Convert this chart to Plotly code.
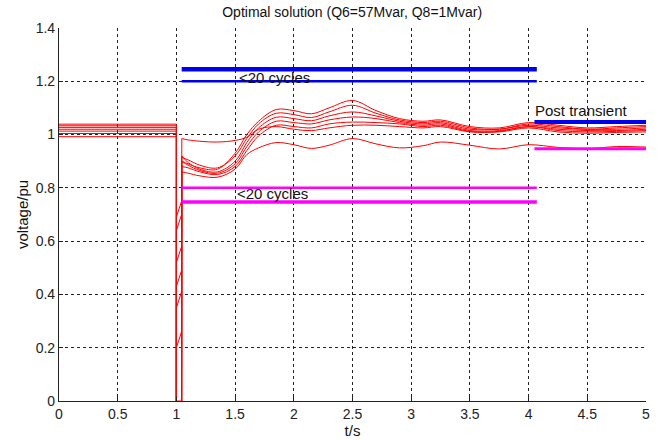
import plotly.graph_objects as go

# ---------------- data ----------------
x_ticks = [0, 0.5, 1, 1.5, 2, 2.5, 3, 3.5, 4, 4.5, 5]
y_ticks = [0, 0.2, 0.4, 0.6, 0.8, 1.0, 1.2, 1.4]

curve_names = ["U1", "U2", "U3", "U4", "U5", "U6", "L"]
pre_fault = [1.039, 1.033, 1.027, 1.02, 1.013, 1.004, 0.992]
fault_start_t = 1.0
fault_end_t = 1.044
fault_mid = [0.0, 0.69, 0.64, 0.52, 0.43, 0.35, 0.2]

post_t = [1.046, 1.1, 1.2, 1.35, 1.5, 1.6, 1.7, 1.85, 2.0, 2.15, 2.3, 2.5,
          2.7, 2.9, 3.1, 3.25, 3.5, 3.75, 4.0, 4.25, 4.5, 4.75, 5.0]
post_U1 = [0.90, 0.89, 0.875, 0.87, 0.93, 1.0, 1.05, 1.094, 1.09, 1.078, 1.10, 1.128,
           1.09, 1.06, 1.05, 1.055, 1.03, 1.025, 1.045, 1.035, 1.025, 1.03, 1.035]
post_U2 = [0.915, 0.905, 0.885, 0.875, 0.92, 0.985, 1.04, 1.08, 1.075, 1.064, 1.085, 1.11,
           1.08, 1.055, 1.045, 1.05, 1.025, 1.02, 1.04, 1.03, 1.02, 1.025, 1.03]
post_U3 = [0.92, 0.895, 0.87, 0.86, 0.90, 0.97, 1.025, 1.065, 1.06, 1.052, 1.07, 1.085,
           1.07, 1.05, 1.04, 1.045, 1.02, 1.02, 1.035, 1.025, 1.02, 1.02, 1.025]
post_U4 = [0.90, 0.885, 0.865, 0.855, 0.89, 0.955, 1.01, 1.05, 1.045, 1.04, 1.055, 1.066,
           1.06, 1.045, 1.035, 1.04, 1.015, 1.015, 1.03, 1.02, 1.015, 1.015, 1.02]
post_U5 = [0.88, 0.875, 0.86, 0.85, 0.88, 0.94, 0.995, 1.035, 1.03, 1.025, 1.04, 1.047,
           1.045, 1.04, 1.03, 1.035, 1.012, 1.012, 1.03, 1.015, 1.01, 1.012, 1.015]
post_U6 = [0.985, 0.98, 0.975, 0.972, 0.978, 0.99, 1.02, 1.03, 1.02, 1.015, 1.025, 1.035,
           1.035, 1.03, 1.025, 1.03, 1.01, 1.01, 1.025, 1.01, 1.005, 1.008, 1.01]
post_L = [0.86, 0.855, 0.845, 0.84, 0.87, 0.925, 0.95, 0.97, 0.962, 0.948, 0.96, 0.985,
          0.965, 0.95, 0.958, 0.972, 0.96, 0.946, 0.962, 0.952, 0.947, 0.955, 0.953]
post_values = [post_U1, post_U2, post_U3, post_U4, post_U5, post_U6, post_L]

# limit lines
limit_t = [1.045, 4.07]
post_limit_t = [4.05, 5.0]
upper_limit_thick = 1.245
upper_limit_thin = 1.2
lower_limit_thin = 0.8
lower_limit_thick = 0.747
post_upper = 1.047
post_lower = 0.947

# ---------------- figure ----------------
fig = go.Figure()
red = "#ff0000"

for pre, mid, post in zip(pre_fault, fault_mid, post_values):
    if mid == 0.0:
        ft = [0, fault_start_t, fault_start_t, fault_end_t, fault_end_t, post_t[0]]
        fv = [pre, pre, 0, 0, post[0] - 0.02, post[0]]
    else:
        ft = [0, fault_start_t, fault_start_t, fault_start_t, fault_end_t, fault_end_t, fault_end_t, post_t[0]]
        fv = [pre, pre, 0, mid, mid + 0.06, 0, post[0] - 0.02, post[0]]
    fig.add_trace(go.Scatter(x=ft, y=fv, mode="lines",
                             line=dict(color=red, width=1), hoverinfo="skip"))
    fig.add_trace(go.Scatter(x=post_t, y=post, mode="lines",
                             line=dict(color=red, width=1, shape="spline", smoothing=1.0),
                             hoverinfo="skip"))

blue = "#0000ee"
magenta = "#ff00ff"
fig.add_trace(go.Scatter(x=limit_t, y=[upper_limit_thick] * 2, mode="lines",
                         line=dict(color=blue, width=4.5)))
fig.add_trace(go.Scatter(x=limit_t, y=[upper_limit_thin] * 2, mode="lines",
                         line=dict(color=blue, width=2.5)))
fig.add_trace(go.Scatter(x=limit_t, y=[lower_limit_thin] * 2, mode="lines",
                         line=dict(color=magenta, width=2.5)))
fig.add_trace(go.Scatter(x=limit_t, y=[lower_limit_thick] * 2, mode="lines",
                         line=dict(color=magenta, width=3.5)))
fig.add_trace(go.Scatter(x=post_limit_t, y=[post_upper] * 2, mode="lines",
                         line=dict(color=blue, width=4)))
fig.add_trace(go.Scatter(x=post_limit_t, y=[post_lower] * 2, mode="lines",
                         line=dict(color=magenta, width=3)))

font_family = "Liberation Sans, Arial, sans-serif"
ann_font = dict(family=font_family, size=15, color="#111")
fig.add_annotation(x=1.52, y=upper_limit_thin, text="<20 cycles", showarrow=False,
                   xanchor="left", yanchor="middle", yshift=4, font=ann_font)
fig.add_annotation(x=1.50, y=lower_limit_thick, text="<20 cycles", showarrow=False,
                   xanchor="left", yanchor="middle", yshift=8, font=ann_font)
fig.add_annotation(x=4.04, y=post_upper, text="Post transient", showarrow=False,
                   xanchor="left", yanchor="bottom", yshift=1, font=ann_font)

axis_common = dict(
    showgrid=True, gridcolor="#222", griddash="dot", gridwidth=1,
    showline=True, linecolor="#222", linewidth=1.2, zeroline=False,
    ticks="inside", ticklen=4, tickcolor="#222", automargin=False,
    tickfont=dict(family=font_family, size=14, color="#222"),
)

fig.update_layout(
    width=662, height=440,
    margin=dict(l=59, r=16, t=28, b=39),
    paper_bgcolor="white", plot_bgcolor="white",
    showlegend=False,
    title=dict(text="Optimal solution (Q6=57Mvar, Q8=1Mvar)", x=0.532, xanchor="center",
               y=0.972, yanchor="middle",
               font=dict(family=font_family, size=14, color="#111")),
    xaxis=dict(range=[0, 5], tickvals=x_ticks, ticktext=[str(v) for v in x_ticks],
               title=dict(text="t/s", standoff=1,
                          font=dict(family=font_family, size=15, color="#111")),
               **axis_common),
    yaxis=dict(range=[0, 1.4], tickvals=y_ticks,
               ticktext=["0", "0.2", "0.4", "0.6", "0.8", "1", "1.2", "1.4"],
               title=dict(text="voltage/pu", standoff=3,
                          font=dict(family=font_family, size=15, color="#111")),
               **axis_common),
)

fig.write_html("out.html")
